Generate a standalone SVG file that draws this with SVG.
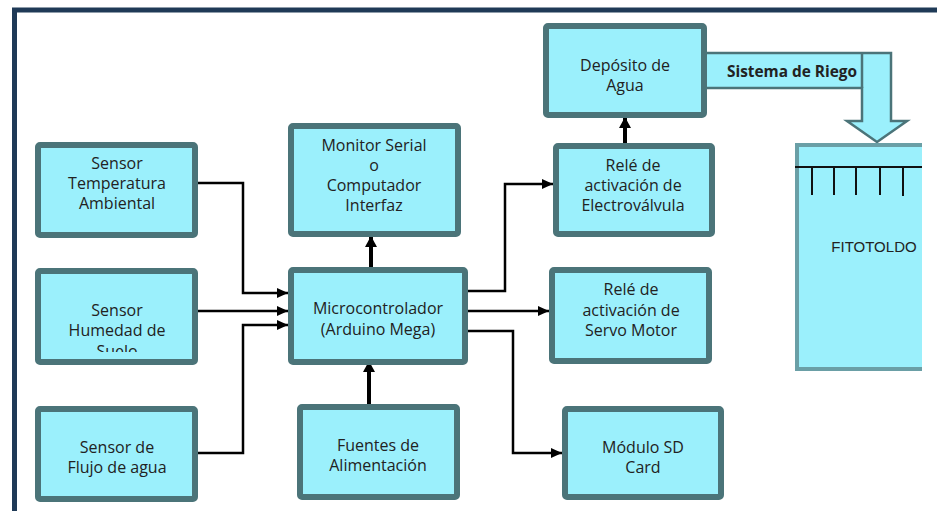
<svg xmlns="http://www.w3.org/2000/svg" width="937" height="511" viewBox="0 0 937 511">
<defs>
<style>
.box{fill:#9bf0fc;stroke:#4b7479;stroke-width:6;stroke-linejoin:round}
.t{font-family:"Open Sans","Liberation Sans",sans-serif;font-size:16px;fill:#222;text-anchor:middle}
.c{fill:none;stroke:#000;stroke-width:2.5}
.ct{fill:none;stroke:#000;stroke-width:4}
</style>
<marker id="a" markerUnits="userSpaceOnUse" markerWidth="12" markerHeight="12" refX="11" refY="5" orient="auto">
<path d="M0,0 L11,5 L0,10 Z" fill="#000"/>
</marker>
<marker id="b" markerUnits="userSpaceOnUse" markerWidth="14" markerHeight="14" refX="11" refY="6" orient="auto">
<path d="M0,0 L11,6 L0,12 Z" fill="#000"/>
</marker>
<clipPath id="clipSuelo"><rect x="38" y="271" width="157" height="81"/></clipPath>
<clipPath id="clipFito"><rect x="780" y="130" width="142" height="260"/></clipPath>
</defs>
<rect width="937" height="511" fill="#fff"/>
<path d="M14.5,520 V10 H940" fill="none" stroke="#1f3a57" stroke-width="5"/>

<g id="connectors">
<path class="c" d="M198,183 H243 V293 H288" marker-end="url(#a)"/>
<path class="c" d="M198,311 H288" marker-end="url(#a)"/>
<path class="c" d="M198,453 H243 V325 H288" marker-end="url(#a)"/>
<path class="ct" d="M369,404 V361" marker-end="url(#b)"/>
<path class="ct" d="M371,267 V236" marker-end="url(#b)"/>
<path class="c" d="M468,291 H505 V184 H553" marker-end="url(#a)"/>
<path class="c" d="M468,311 H549" marker-end="url(#a)"/>
<path class="c" d="M468,331 H513 V453 H562" marker-end="url(#a)"/>
<path class="ct" d="M625,143 V117" marker-end="url(#b)"/>
</g>

<g id="sistema-riego">
<path d="M703,53 H891 V121 H907 L877,142 L847,121 H862 V88 H703 Z" fill="#9bf0fc" stroke="#4b7479" stroke-width="2.5" stroke-linejoin="miter"/>
<line x1="862" y1="53" x2="862" y2="88" stroke="#4b7479" stroke-width="2.5"/>
<text class="t" x="792" y="77" style="font-weight:bold;font-size:15.4px">Sistema de Riego</text>
</g>

<g id="temp">
<rect class="box" x="38" y="145" width="157" height="90" rx="2"/>
<text class="t" x="117" y="169">Sensor</text>
<text class="t" x="117" y="189">Temperatura</text>
<text class="t" x="117" y="209">Ambiental</text>
</g>

<g id="humedad">
<rect class="box" x="38" y="271" width="157" height="91" rx="2"/>
<g clip-path="url(#clipSuelo)">
<text class="t" x="117" y="316">Sensor</text>
<text class="t" x="117" y="336">Humedad de</text>
<text class="t" x="117" y="357">Suelo</text>
</g>
</g>

<g id="flujo">
<rect class="box" x="38" y="409" width="157" height="90" rx="2"/>
<text class="t" x="117" y="453">Sensor de</text>
<text class="t" x="117" y="473">Flujo de agua</text>
</g>

<g id="monitor">
<rect class="box" x="291" y="126" width="167" height="108" rx="2"/>
<text class="t" x="374" y="151">Monitor Serial</text>
<text class="t" x="374" y="171">o</text>
<text class="t" x="374" y="191">Computador</text>
<text class="t" x="374" y="211">Interfaz</text>
</g>

<g id="micro">
<rect class="box" x="291" y="270" width="174" height="92" rx="2"/>
<text class="t" x="378" y="314">Microcontrolador</text>
<text class="t" x="378" y="335">(Arduino Mega)</text>
</g>

<g id="fuentes">
<rect class="box" x="300" y="407" width="157" height="90" rx="2"/>
<text class="t" x="378" y="451">Fuentes de</text>
<text class="t" x="378" y="471">Alimentación</text>
</g>

<g id="deposito">
<rect class="box" x="546" y="26" width="158" height="89" rx="2"/>
<text class="t" x="625" y="71">Depósito de</text>
<text class="t" x="625" y="91">Agua</text>
</g>

<g id="rele-electro">
<rect class="box" x="556" y="146" width="156" height="88" rx="2"/>
<text class="t" x="633" y="171">Relé de</text>
<text class="t" x="633" y="191">activación de</text>
<text class="t" x="633" y="211">Electroválvula</text>
</g>

<g id="rele-servo">
<rect class="box" x="552" y="270" width="157" height="91" rx="2"/>
<text class="t" x="631" y="295">Relé de</text>
<text class="t" x="631" y="316">activación de</text>
<text class="t" x="631" y="336">Servo Motor</text>
</g>

<g id="sd">
<rect class="box" x="565" y="409" width="156" height="88" rx="2"/>
<text class="t" x="643" y="453">Módulo SD</text>
<text class="t" x="643" y="473">Card</text>
</g>

<g id="fitotoldo" clip-path="url(#clipFito)">
<rect x="797" y="145" width="160" height="224" fill="#9bf0fc" stroke="#6a9fa6" stroke-width="4"/>
<line x1="795" y1="167" x2="925" y2="167" stroke="#111" stroke-width="2"/>
<g stroke="#111" stroke-width="2">
<line x1="812" y1="167" x2="812" y2="195"/>
<line x1="834" y1="167" x2="834" y2="195"/>
<line x1="856" y1="167" x2="856" y2="195"/>
<line x1="880" y1="167" x2="880" y2="195"/>
<line x1="903" y1="167" x2="903" y2="196"/>
</g>
<text class="t" x="874" y="252" style="font-family:'Liberation Sans',sans-serif;font-size:15px">FITOTOLDO</text>
</g>
</svg>
